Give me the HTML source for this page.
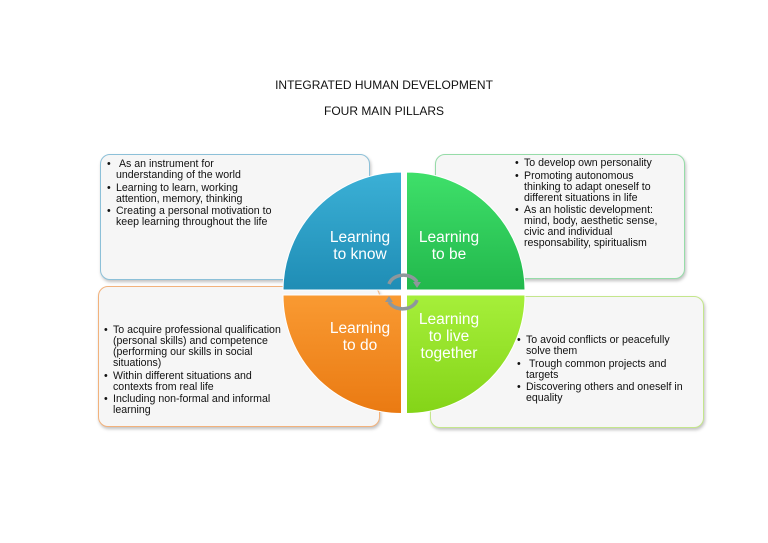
<!DOCTYPE html>
<html><head><meta charset="utf-8"><style>
body{margin:0;width:768px;height:543px;background:#fff;position:relative;overflow:hidden;font-family:"Liberation Sans",Arial,sans-serif;}
.t{position:absolute;left:0;width:768px;text-align:center;font-size:12px;color:#111;}
.box{position:absolute;background:#f6f6f6;border-radius:10px;box-sizing:border-box;box-shadow:1px 2px 3px rgba(0,0,0,0.25);}
.txt{position:absolute;font-size:10.6px;line-height:11px;color:#111;white-space:nowrap;}
.b{position:relative;padding-left:9px;margin-bottom:1.5px;}
.b:before{content:"•";position:absolute;left:0;top:0;}
.lab{position:absolute;color:#fff;font-size:15.5px;line-height:17px;text-align:center;width:100px;}
</style></head><body>
<div class="t" style="top:78px;">INTEGRATED HUMAN DEVELOPMENT</div>
<div class="t" style="top:104px;">FOUR MAIN PILLARS</div>

<div class="box" style="left:100px;top:154px;width:270px;height:126px;border:1.5px solid #8cc0d8;"></div>
<div class="box" style="left:98px;top:286px;width:282px;height:141px;border:1.5px solid #f2b27c;"></div>
<div class="box" style="left:435px;top:154px;width:250px;height:125px;border:1.5px solid #96dca8;"></div>
<div class="box" style="left:430px;top:296px;width:274px;height:132px;border:1.5px solid #c4e68c;"></div>

<div class="txt" style="left:107px;top:159px;">
<div class="b">&nbsp;As an instrument for<br>understanding of the world</div>
<div class="b">Learning to learn, working<br>attention, memory, thinking</div>
<div class="b">Creating a personal motivation to<br>keep learning throughout the life</div>
</div>
<div class="txt" style="left:104px;top:325px;">
<div class="b">To acquire professional qualification<br>(personal skills) and competence<br>(performing our skills in social<br>situations)</div>
<div class="b">Within different situations and<br>contexts from real life</div>
<div class="b">Including non-formal and informal<br>learning</div>
</div>
<div class="txt" style="left:515px;top:158px;">
<div class="b">To develop own personality</div>
<div class="b">Promoting autonomous<br>thinking to adapt oneself to<br>different situations in life</div>
<div class="b">As an holistic development:<br>mind, body, aesthetic sense,<br>civic and individual<br>responsability, spiritualism</div>
</div>
<div class="txt" style="left:517px;top:335px;">
<div class="b">To avoid conflicts or peacefully<br>solve them</div>
<div class="b">&nbsp;Trough common projects and<br>targets</div>
<div class="b">Discovering others and oneself in<br>equality</div>
</div>

<svg style="position:absolute;left:0;top:0" width="768" height="543">
<defs>
<linearGradient id="gb" x1="0" y1="0" x2="0" y2="1"><stop offset="0" stop-color="#3bb0d6"/><stop offset="1" stop-color="#1f8db5"/></linearGradient>
<linearGradient id="gg" x1="0" y1="0" x2="0" y2="1"><stop offset="0" stop-color="#3fe06a"/><stop offset="1" stop-color="#22b84c"/></linearGradient>
<linearGradient id="go" x1="0" y1="0" x2="0" y2="1"><stop offset="0" stop-color="#f99a32"/><stop offset="1" stop-color="#ea7a12"/></linearGradient>
<linearGradient id="gl" x1="0" y1="0" x2="0" y2="1"><stop offset="0" stop-color="#a6ef3a"/><stop offset="1" stop-color="#84d418"/></linearGradient>
</defs>
<g stroke="#fff" stroke-width="1">
<path d="M401.5,290 L401.5,172 A118.5,118.5 0 0 0 283,290 Z" fill="url(#gb)"/>
<path d="M406.5,290 L406.5,172 A118.5,118.5 0 0 1 525,290 Z" fill="url(#gg)"/>
<path d="M401.5,295 L283,295 A118.5,118.5 0 0 0 401.5,413.5 Z" fill="url(#go)"/>
<path d="M406.5,295 L525,295 A118.5,118.5 0 0 1 406.5,413.5 Z" fill="url(#gl)"/>
</g>
<g fill="none" stroke="#8e979c" stroke-width="3.5">
<path d="M389,284 A15,12 0 0 1 417,282"/>
<path d="M417,300 A15,12 0 0 1 389,302"/>
</g>
<polygon points="413,282 421,282 417,288" fill="#8e979c"/>
<polygon points="385,302 393,302 389,296" fill="#8e979c"/>
</svg>

<div class="lab" style="left:310px;top:229px;">Learning<br>to know</div>
<div class="lab" style="left:399px;top:229px;">Learning<br>to be</div>
<div class="lab" style="left:310px;top:320px;">Learning<br>to do</div>
<div class="lab" style="left:399px;top:311px;">Learning<br>to live<br>together</div>
</body></html>
